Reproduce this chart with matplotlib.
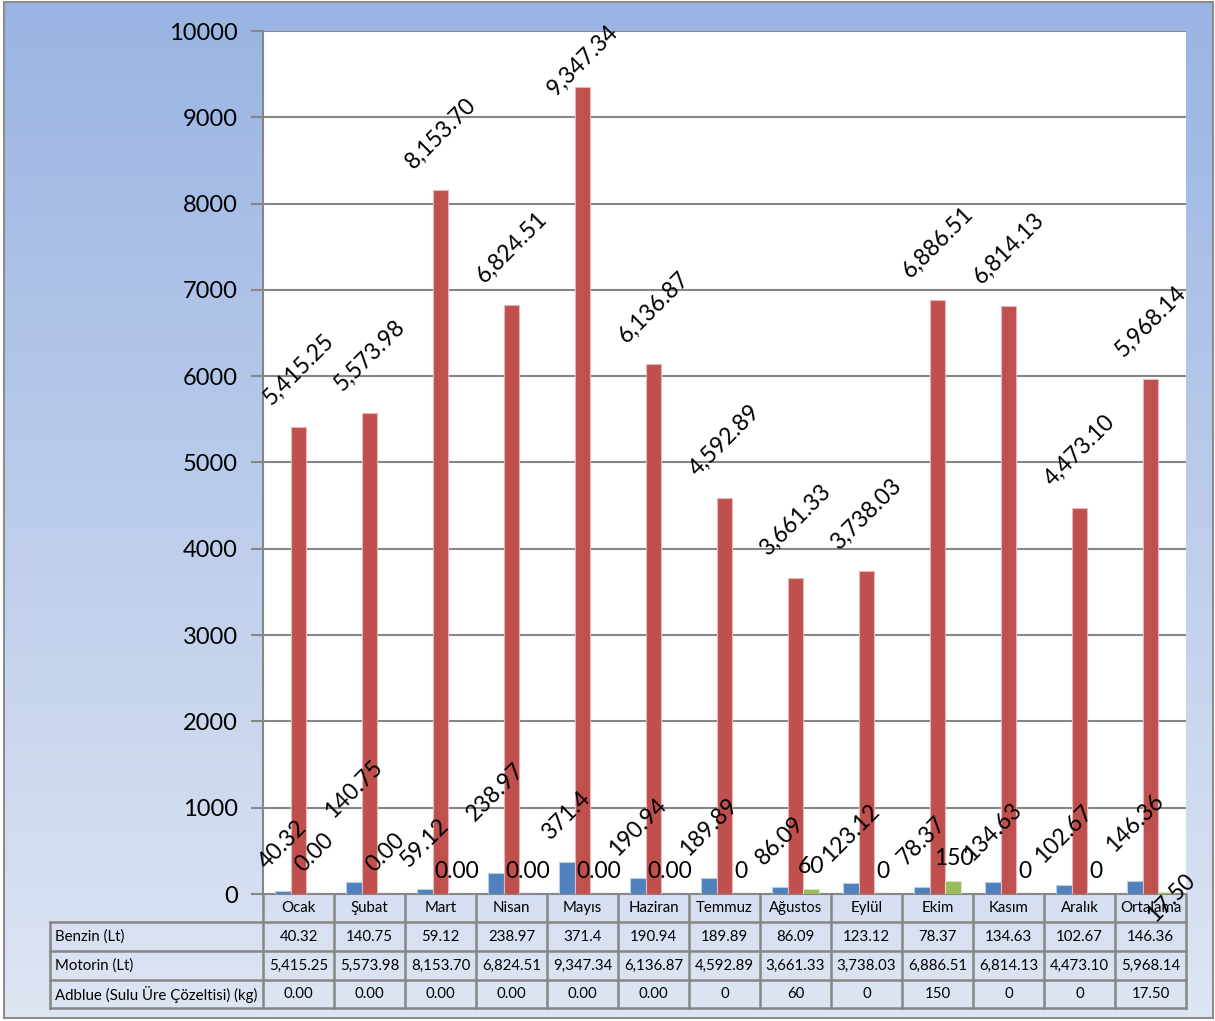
import matplotlib
matplotlib.use("Agg")
import matplotlib.pyplot as plt
import numpy as np
from matplotlib.patches import Rectangle
from matplotlib.lines import Line2D
from matplotlib.transforms import blended_transform_factory

months = ["Ocak", "Şubat", "Mart", "Nisan", "Mayıs", "Haziran", "Temmuz",
          "Ağustos", "Eylül", "Ekim", "Kasım", "Aralık", "Ortalama"]
series_names = ["Benzin (Lt)", "Motorin (Lt)", "Adblue (Sulu Üre Çözeltisi) (kg)"]

benzin = [40.32, 140.75, 59.12, 238.97, 371.4, 190.94, 189.89,
          86.09, 123.12, 78.37, 134.63, 102.67, 146.36]
motorin = [5415.25, 5573.98, 8153.70, 6824.51, 9347.34, 6136.87, 4592.89,
           3661.33, 3738.03, 6886.51, 6814.13, 4473.10, 5968.14]
adblue = [0, 0, 0, 0, 0, 0, 0, 60, 0, 150, 0, 0, 17.50]

benzin_text = ["40.32", "140.75", "59.12", "238.97", "371.4", "190.94", "189.89",
               "86.09", "123.12", "78.37", "134.63", "102.67", "146.36"]
motorin_text = ["5,415.25", "5,573.98", "8,153.70", "6,824.51", "9,347.34", "6,136.87",
                "4,592.89", "3,661.33", "3,738.03", "6,886.51", "6,814.13", "4,473.10",
                "5,968.14"]
adblue_text = ["0.00", "0.00", "0.00", "0.00", "0.00", "0.00", "0",
               "60", "0", "150", "0", "0", "17.50"]

y_ticks = [0, 1000, 2000, 3000, 4000, 5000, 6000, 7000, 8000, 9000, 10000]

# label styling (Excel kept a few labels nudged by hand)
benzin_lift = [0, 42, 0, 31, 0, 0, 0, 0, 0, 0, 0, 0, 8]
motorin_lift = [0, 0, 0, 0, -30, 0, 0, 0, 0, 0, 0, 0, 0]
adblue_rot = [45, 45, 0, 0, 0, 0, 0, 0, 0, 0, 0, 0, 45]

colors = ["#4F81BD", "#C0504D", "#9BBB59"]
edge_colors = ["#B9CDE5", "#E6B9B8", "#D7E4BD"]
grid_color = "#868686"

plt.rcParams["font.family"] = ["Lato", "DejaVu Sans"]

W, H = 1215, 1021
fig = plt.figure(figsize=(W / 100, H / 100), dpi=100)

# gradient background inside the chart border
bg = fig.add_axes([4 / W, 3 / H, 1209 / W, 1016 / H], zorder=-10)
grad = np.linspace(0, 1, 256).reshape(-1, 1)
top = np.array([153, 180, 227]) / 255
bot = np.array([222, 229, 243]) / 255
img = top[None, None, :] * (1 - grad[:, :, None]) + bot[None, None, :] * grad[:, :, None]
bg.imshow(img, aspect="auto", extent=[0, 1, 0, 1], origin="upper")
bg.set_axis_off()
fig.patches.append(Rectangle((4 / W, 3 / H), 1209 / W, 1016 / H, transform=fig.transFigure,
                             facecolor="none", edgecolor="#8C8C8C", linewidth=1.5, zorder=5))

ax_left, ax_right, ax_top, ax_bot = 263, 1186, 31, 894
ax = fig.add_axes([ax_left / W, (H - ax_bot) / H, (ax_right - ax_left) / W, (ax_bot - ax_top) / H])
ax.set_facecolor("white")

x = np.arange(len(months))
bw = 0.225
all_vals = [benzin, motorin, adblue]
for k, vals in enumerate(all_vals):
    ax.bar(x + (k - 1) * bw, vals, width=bw, color=colors[k], edgecolor=edge_colors[k],
           linewidth=0.8, zorder=3, label=series_names[k])

ax.set_xlim(-0.5, len(months) - 0.5)
ax.set_ylim(0, 10000)
ax.set_yticks(y_ticks)
ax.set_yticklabels([str(t) for t in y_ticks], fontsize=17)
ax.tick_params(axis="y", length=9, width=1.5, color=grid_color, pad=9)
ax.set_xticks([])
ax.grid(axis="y", color=grid_color, linewidth=1.5, zorder=1)
ax.set_axisbelow(True)
for side in ["top", "right"]:
    ax.spines[side].set_visible(False)
for side in ["left", "bottom"]:
    ax.spines[side].set_color(grid_color)
    ax.spines[side].set_linewidth(1.5)

# data labels
lbl_size = 16.5
for i in range(len(months)):
    ax.annotate(benzin_text[i], xy=(x[i] - bw, benzin[i]), xytext=(0, 18 + benzin_lift[i]),
                textcoords="offset pixels", rotation=45, ha="center", va="bottom",
                fontsize=lbl_size, zorder=6)
    ax.annotate(motorin_text[i], xy=(x[i], motorin[i]), xytext=(0, 18 + motorin_lift[i]),
                textcoords="offset pixels", rotation=45, ha="center", va="bottom",
                fontsize=lbl_size, zorder=6)
    if i == len(months) - 1:
        ax.annotate(adblue_text[i], xy=(x[i] + bw, adblue[i]), xytext=(5, -5),
                    textcoords="offset pixels", rotation=45, ha="center", va="center",
                    fontsize=lbl_size, zorder=6, annotation_clip=False)
    else:
        off = 18 if adblue_rot[i] else 12
        ax.annotate(adblue_text[i], xy=(x[i] + bw, adblue[i]), xytext=(0, off),
                    textcoords="offset pixels", rotation=adblue_rot[i], ha="center",
                    va="bottom", fontsize=lbl_size, zorder=6)

# data table under the plot
px = 1 / (ax_bot - ax_top)
row_edges = [0, -28 * px, -57 * px, -86 * px, -114 * px]
left_edge = (50 - ax_left) / (ax_right - ax_left)
tr = blended_transform_factory(ax.transData, ax.transAxes)
lw = 1.8
line_kw = dict(color=grid_color, linewidth=lw, clip_on=False, zorder=4)

for xb in np.arange(-0.5, len(months), 1.0):
    ax.add_line(Line2D([xb, xb], [row_edges[0], row_edges[-1]], transform=tr, **line_kw))
for r in row_edges[1:]:
    ax.add_line(Line2D([left_edge, 1], [r, r], transform=ax.transAxes, **line_kw))
ax.add_line(Line2D([left_edge, left_edge], [row_edges[1], row_edges[-1]],
                   transform=ax.transAxes, **line_kw))

tbl_size = 10.8
for i, m in enumerate(months):
    ax.text(x[i], (row_edges[0] + row_edges[1]) / 2, m, transform=tr, ha="center",
            va="center", fontsize=tbl_size, zorder=2)
rows_text = [benzin_text, motorin_text, adblue_text]
for r, texts in enumerate(rows_text):
    yc = (row_edges[r + 1] + row_edges[r + 2]) / 2
    ax.text(left_edge + 5 / (ax_right - ax_left), yc, series_names[r], transform=ax.transAxes,
            ha="left", va="center", fontsize=tbl_size)
    for i, t in enumerate(texts):
        ax.text(x[i], yc, t, transform=tr, ha="center", va="center", fontsize=tbl_size)

fig.savefig("out.png", dpi=100)
